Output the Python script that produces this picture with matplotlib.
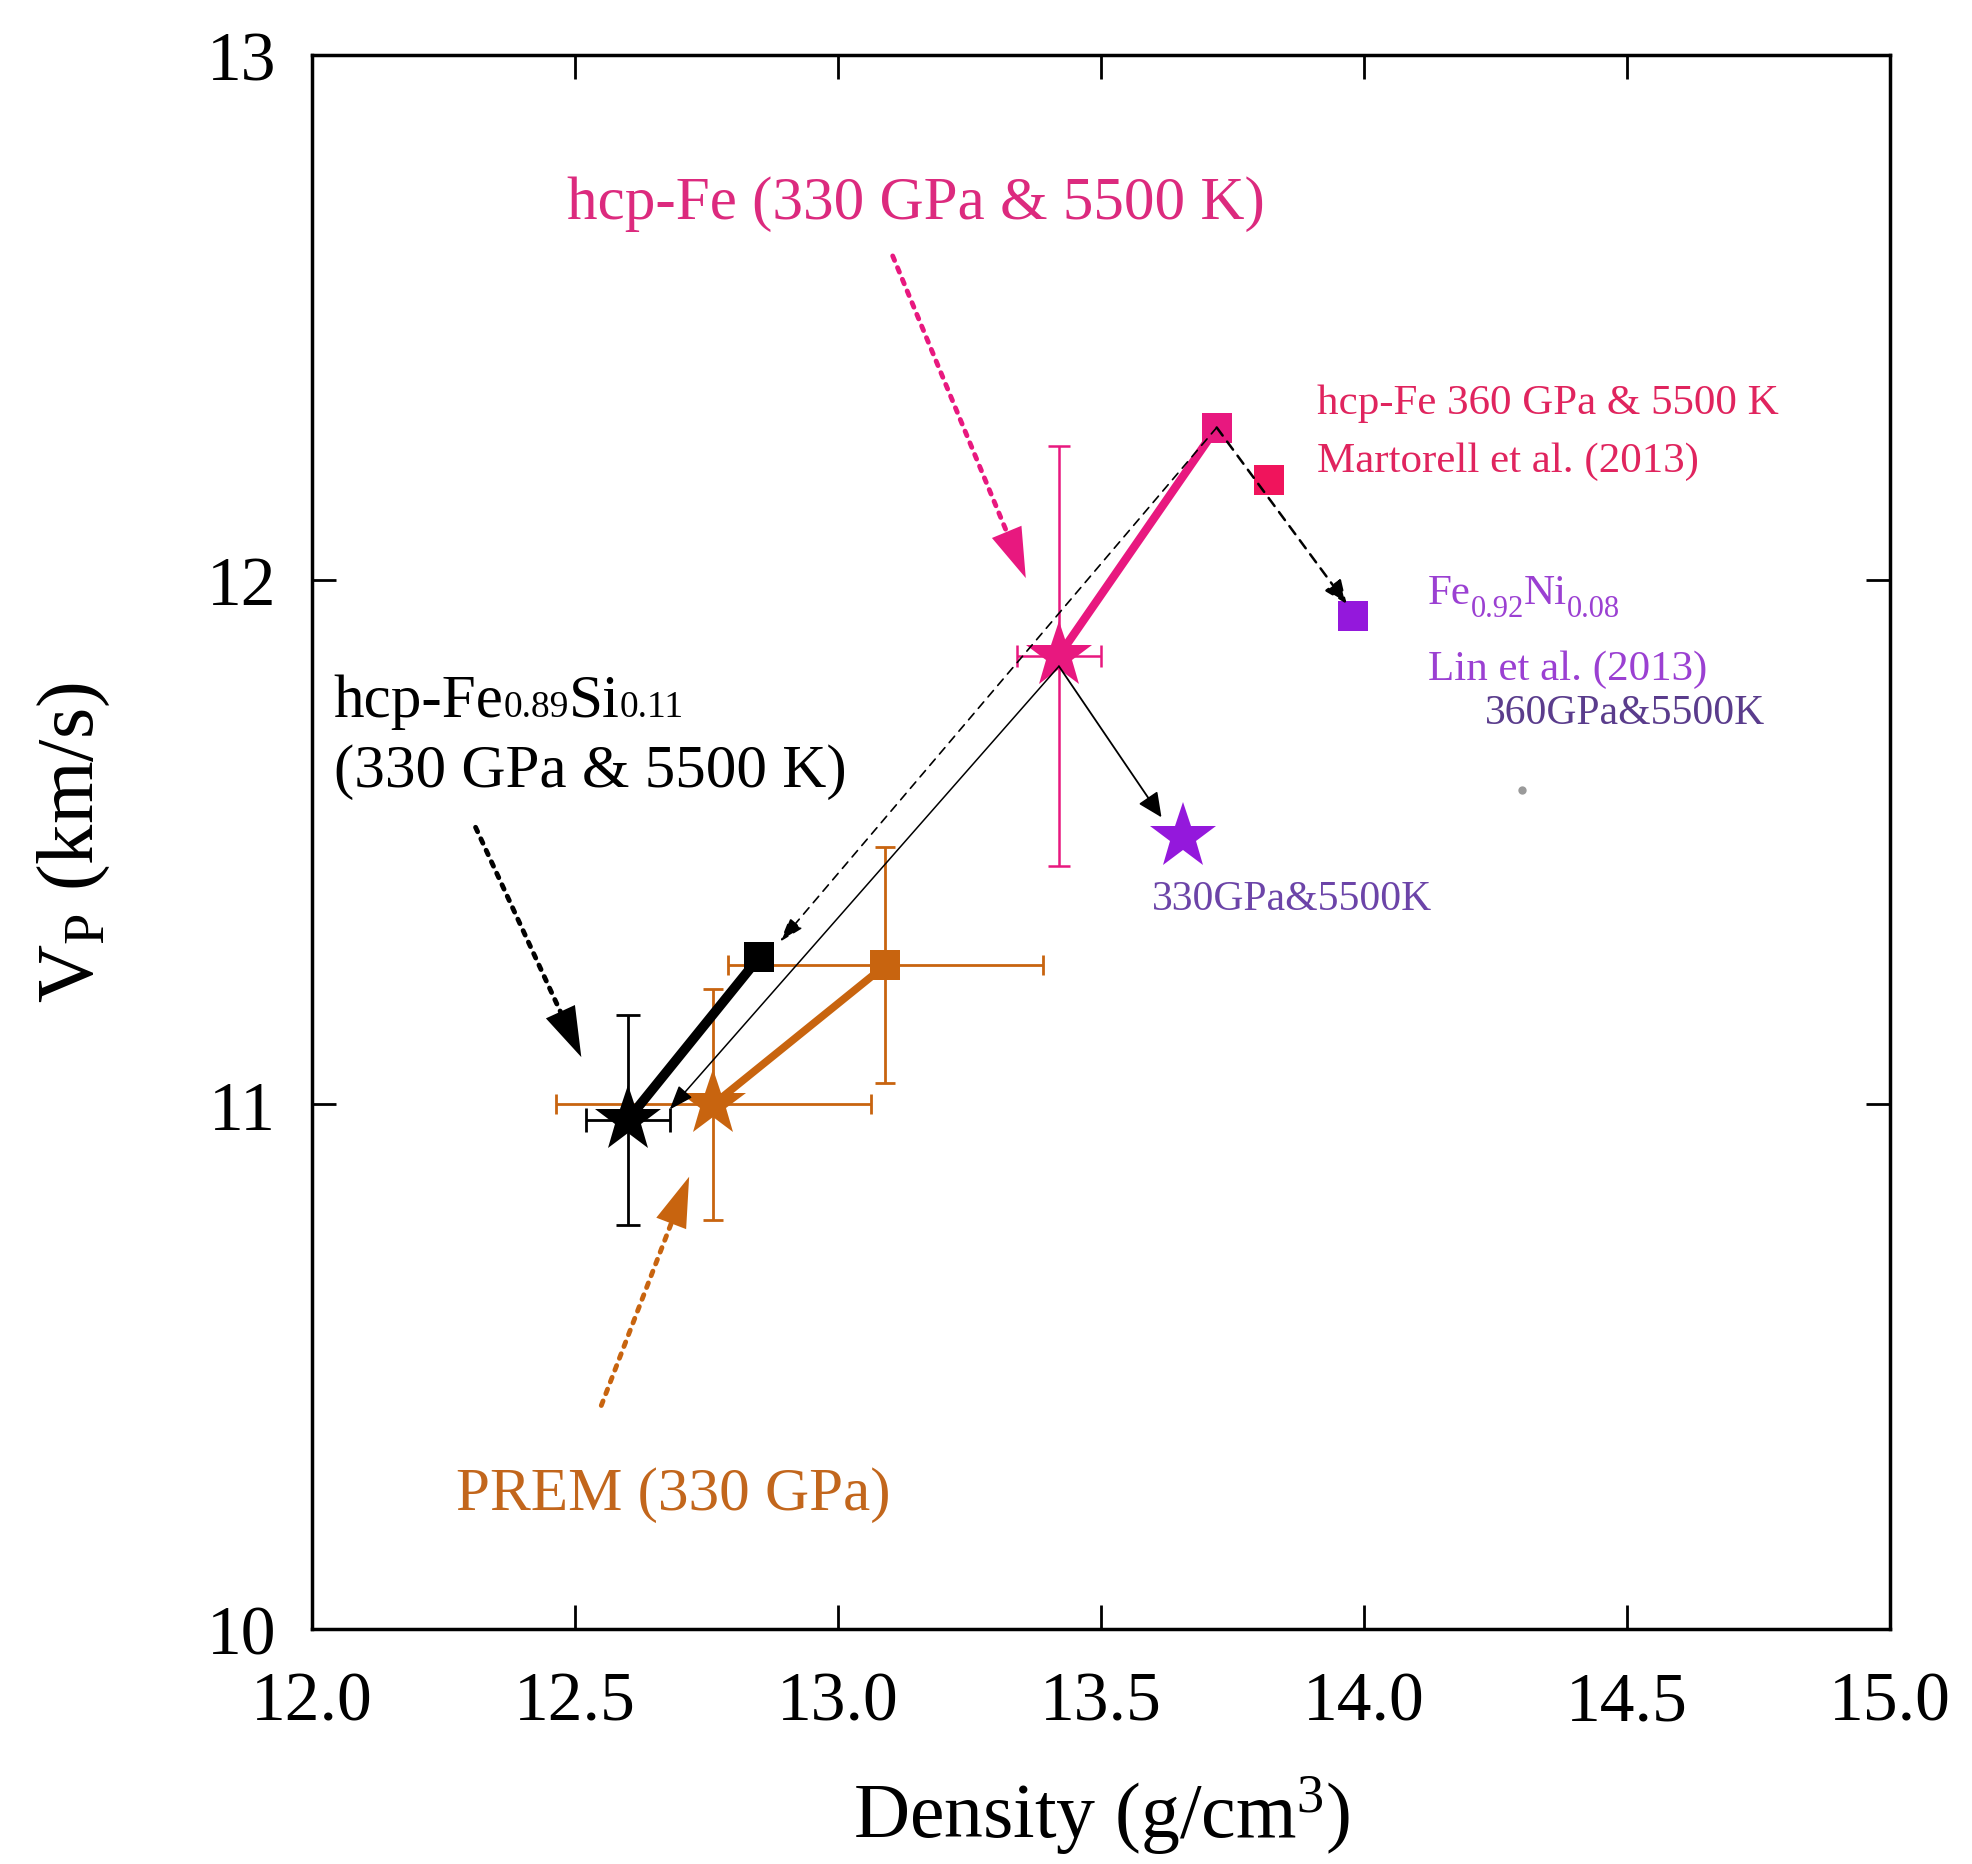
import matplotlib
matplotlib.use('Agg')
import matplotlib.pyplot as plt
from matplotlib.patches import ArrowStyle
from matplotlib.transforms import offset_copy

plt.rcParams.update({
    'font.family': 'Liberation Serif',
    'mathtext.fontset': 'custom',
    'mathtext.rm': 'Liberation Serif',
    'mathtext.it': 'Liberation Serif:italic',
    'mathtext.bf': 'Liberation Serif:bold',
})

# ---------------------------------------------------------------
# Data  (density g/cm3, Vp km/s) -- star = 330 GPa, square = 360 GPa
# ---------------------------------------------------------------
fesi_rho = [12.60, 12.85]          # hcp-Fe0.89Si0.11
fesi_vp = [10.97, 11.28]
fesi_rho_err = 0.08
fesi_vp_err = 0.20

prem_rho = [12.763, 13.09]         # PREM
prem_vp = [11.00, 11.265]
prem_rho_err = [0.30, 0.30]
prem_vp_err = [0.22, 0.225]

fe_rho = [13.42, 13.72]            # hcp-Fe
fe_vp = [11.855, 12.29]
fe_rho_err = 0.08
fe_vp_err = 0.40

martorell_rho = [13.82]            # Martorell et al. (2013)
martorell_vp = [12.19]

lin_rho = [13.655, 13.98]          # Fe0.92Ni0.08, Lin et al. (2013)
lin_vp = [11.51, 11.93]

stray_rho = [14.30]                # small grey dot
stray_vp = [11.60]

# pointer arrows (start, tip) for the big labels
ptr_fe = ((13.104, 12.617), (13.357, 12.003))
ptr_fesi = ((12.311, 11.528), (12.512, 11.090))
ptr_prem = ((12.550, 10.426), (12.717, 10.862))

# thin connecting arrows (start, tip)
conn_fe_fesi = ((13.42, 11.835), (12.68, 10.99))
conn_fe_lin = ((13.42, 11.835), (13.615, 11.547))
conn_sq_fesi = ((13.72, 12.29), (12.89, 11.31))
conn_sq_lin = ((13.72, 12.29), (13.967, 11.954))

PINK = '#E8187F'
RED = '#F0145C'
ORANGE = '#C8640F'
PURPLE = '#9418DC'

STAR_MS = 50
SQ_MS = 21

fig = plt.figure(figsize=(19.72, 18.65), dpi=100)
ax = fig.add_axes([312 / 1972, 1 - 1630 / 1865, 1578 / 1972, 1574 / 1865])
ax.set_xlim(12, 15)
ax.set_ylim(10, 13)

# ---- thin connection arrows ----
def conn(seg, ls, lw, hl, hw):
    (x0, y0), (x1, y1) = seg
    ax.annotate('', xy=(x1, y1), xytext=(x0, y0), zorder=4,
                arrowprops=dict(arrowstyle=ArrowStyle('-|>', head_length=hl, head_width=hw),
                                mutation_scale=10, lw=lw, ls=ls, color='black',
                                shrinkA=0, shrinkB=0))

conn(conn_fe_fesi, '-', 1.1, 1.5, 0.55)
conn(conn_fe_lin, '-', 1.3, 1.5, 0.7)
conn(conn_sq_fesi, (0, (5, 4)), 1.2, 1.5, 0.5)
conn(conn_sq_lin, (0, (4, 3)), 1.8, 1.4, 0.6)

# ---- PREM ----
ax.errorbar(prem_rho, prem_vp, xerr=prem_rho_err, yerr=prem_vp_err, fmt='none',
            ecolor=ORANGE, elinewidth=2, capsize=7, capthick=2, zorder=3)
ax.plot(prem_rho, prem_vp, '-', color=ORANGE, lw=5.5, zorder=3)
ax.plot(prem_rho[:1], prem_vp[:1], ls='none', marker='*', ms=STAR_MS, color=ORANGE, mew=0, zorder=3)
ax.plot(prem_rho[1:], prem_vp[1:], ls='none', marker='s', ms=SQ_MS, color=ORANGE, mew=0, zorder=3)

# ---- Fe-Si ----
ax.plot(fesi_rho, fesi_vp, '-', color='black', lw=7, zorder=5)
ax.plot(fesi_rho[:1], fesi_vp[:1], ls='none', marker='*', ms=STAR_MS, color='black', mew=0, zorder=5)
ax.plot(fesi_rho[1:], fesi_vp[1:], ls='none', marker='s', ms=SQ_MS, color='black', mew=0, zorder=5)
ax.errorbar(fesi_rho[:1], fesi_vp[:1], xerr=fesi_rho_err, yerr=fesi_vp_err, fmt='none',
            ecolor='black', elinewidth=2, capsize=8.5, capthick=2, zorder=6)

# ---- hcp-Fe ----
ax.plot(fe_rho, fe_vp, '-', color=PINK, lw=6, zorder=3)
ax.plot(fe_rho[:1], fe_vp[:1], ls='none', marker='*', ms=STAR_MS, color=PINK, mew=0, zorder=3)
ax.plot(fe_rho[1:], fe_vp[1:], ls='none', marker='s', ms=SQ_MS, color=PINK, mew=0, zorder=3)
ax.errorbar(fe_rho[:1], fe_vp[:1], xerr=fe_rho_err, yerr=fe_vp_err, fmt='none',
            ecolor=PINK, elinewidth=1.8, capsize=8, capthick=1.8, zorder=3)

ax.plot(martorell_rho, martorell_vp, ls='none', marker='s', ms=SQ_MS, color=RED, mew=0, zorder=3)
ax.plot(lin_rho[:1], lin_vp[:1], ls='none', marker='*', ms=STAR_MS, color=PURPLE, mew=0, zorder=3)
ax.plot(lin_rho[1:], lin_vp[1:], ls='none', marker='s', ms=SQ_MS, color=PURPLE, mew=0, zorder=3)
ax.plot(stray_rho, stray_vp, ls='none', marker='o', ms=6, color='#9a9a9a', mew=0)

# ---- dotted pointer arrows ----
def pointer(seg, color):
    start, tip = seg
    ax.annotate('', xy=tip, xytext=start,
                arrowprops=dict(arrowstyle='-', lw=3.5, ls=(0, (1.0, 1.6)), color=color,
                                shrinkA=0, shrinkB=28))
    ax.annotate('', xy=tip, xytext=start,
                arrowprops=dict(arrowstyle=ArrowStyle('-|>', head_length=3.6, head_width=1.15),
                                mutation_scale=10, lw=0, color=color, shrinkA=0, shrinkB=0))

pointer(ptr_fe, PINK)
pointer(ptr_fesi, 'black')
pointer(ptr_prem, ORANGE)

# ---- labels ----
BIG = 44
SMALL = 31
renderer = fig.canvas.get_renderer()


def pieces(x, y, parts, color):
    """Draw text pieces one after another; parts = (text, size, dy in px)."""
    dx = 0.0
    for s, size, dy in parts:
        tr = offset_copy(ax.transData, fig=fig, x=dx, y=dy, units='dots')
        t = ax.text(x, y, s, color=color, fontsize=size, ha='left', va='baseline', transform=tr)
        dx += t.get_window_extent(renderer).width


ax.text(13.149, 12.689, 'hcp-Fe (330 GPa & 5500 K)', color='#DC2A7E', fontsize=BIG,
        ha='center', va='baseline')
ax.text(12.273, 10.228, 'PREM (330 GPa)', color='#C2661C', fontsize=BIG, ha='left', va='baseline')
ax.text(12.041, 11.607, '(330 GPa & 5500 K)', color='black', fontsize=BIG, ha='left', va='baseline')
pieces(12.041, 11.741, [('hcp-Fe', BIG, 0), ('0.89', 27, 0), ('Si', BIG, 0), ('0.11', 27, 0)], 'black')

ax.text(13.910, 12.318, 'hcp-Fe 360 GPa & 5500 K', color='#E0245E', fontsize=SMALL, ha='left', va='baseline')
ax.text(13.910, 12.208, 'Martorell et al. (2013)', color='#E0245E', fontsize=SMALL, ha='left', va='baseline')
pieces(14.121, 11.955, [('Fe', SMALL, 0), ('0.92', 22, -13), ('Ni', SMALL, 0), ('0.08', 22, -13)], '#9B40D2')
ax.text(14.121, 11.810, 'Lin et al. (2013)', color='#9B40D2', fontsize=SMALL, ha='left', va='baseline')
ax.text(14.230, 11.727, '360GPa&5500K', color='#5A3C8C', fontsize=30, ha='left', va='baseline')
ax.text(13.596, 11.372, '330GPa&5500K', color='#6C44A8', fontsize=30, ha='left', va='baseline')

# ---- axes ----
ax.set_xticks([12.0, 12.5, 13.0, 13.5, 14.0, 14.5, 15.0])
ax.set_xticklabels(['12.0', '12.5', '13.0', '13.5', '14.0', '14.5', '15.0'])
ax.set_yticks([10, 11, 12, 13])
ax.tick_params(direction='in', length=17, width=2, top=True, right=True, labelsize=50)
ax.tick_params(axis='x', pad=30)
ax.tick_params(axis='y', pad=26)
for sp in ax.spines.values():
    sp.set_linewidth(2.5)

ax.set_xlabel(r'Density (g/cm$^3$)', fontsize=56, labelpad=28)
ax.set_ylabel(r'V$_\mathrm{P}$ (km/s)', fontsize=58, labelpad=68)

fig.savefig('out.png', dpi=100)
